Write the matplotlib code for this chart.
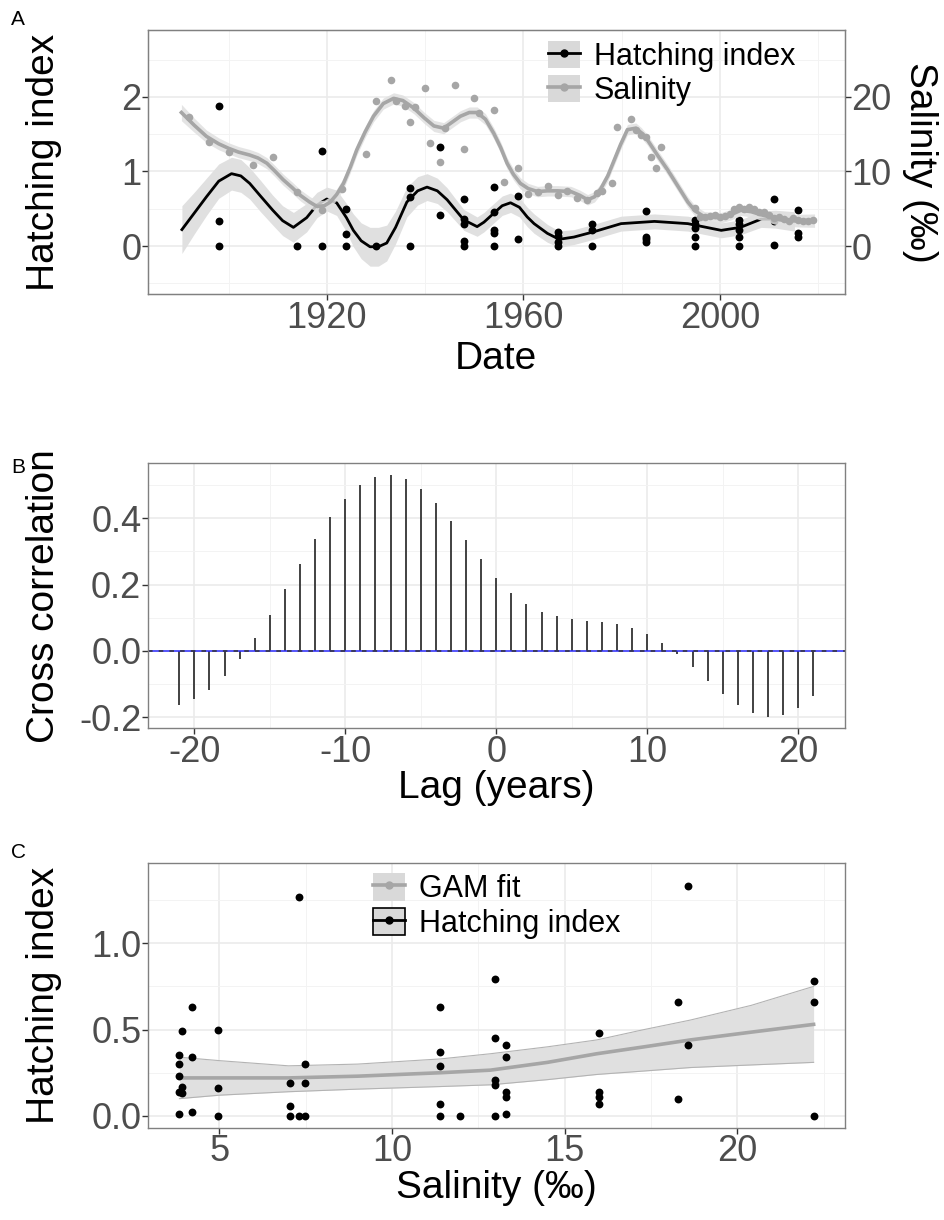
import matplotlib
matplotlib.use('Agg')
import matplotlib.pyplot as plt
import matplotlib.ticker as ticker
from matplotlib.patches import Patch
from matplotlib.lines import Line2D
import numpy as np

# ---------------- Panel A: hatching index & salinity over time ----------------
hatch_year = [1898, 1898, 1898, 1914, 1919, 1919, 1924, 1924, 1924, 1930,
              1937, 1937, 1937, 1943, 1943, 1948, 1948, 1948, 1948, 1948,
              1954, 1954, 1954, 1954, 1954, 1959, 1959, 1967, 1967, 1967, 1967,
              1974, 1974, 1974, 1985, 1985, 1985, 1985,
              1995, 1995, 1995, 1995, 1995, 2004, 2004, 2004, 2004, 2004,
              2011, 2011, 2011, 2016, 2016, 2016]
hatch_val = [1.88, 0.33, 0.0, 0.0, 1.27, 0.0, 0.49, 0.16, 0.0, 0.0,
             0.78, 0.66, 0.0, 1.33, 0.41, 0.63, 0.36, 0.30, 0.07, 0.0,
             0.79, 0.45, 0.21, 0.18, 0.0, 0.67, 0.09, 0.19, 0.13, 0.06, 0.0,
             0.30, 0.21, 0.0, 0.47, 0.12, 0.09, 0.05,
             0.35, 0.30, 0.24, 0.12, 0.0, 0.35, 0.30, 0.21, 0.12, 0.0,
             0.63, 0.34, 0.01, 0.48, 0.17, 0.12]

hatch_fit_year = [1890.5, 1893, 1895.5, 1898, 1900.6, 1902.5, 1904.3, 1906.5, 1909, 1911,
                  1913.2, 1915.9, 1918, 1920, 1922, 1924, 1925.4, 1927, 1928.8, 1930.5,
                  1932.2, 1934, 1936.3, 1938.5, 1940.4, 1942.5, 1944.5, 1946, 1947.9, 1950.6,
                  1952, 1954, 1955.7, 1957.4, 1959.2, 1960.8, 1962.2, 1964.9, 1967.3, 1970.3,
                  1974.3, 1979.9, 1986.7, 1993.5, 2000.3, 2004.2, 2008.4, 2011.3, 2015.2]
hatch_fit = [0.22, 0.44, 0.66, 0.87, 0.97, 0.94, 0.84, 0.67, 0.48, 0.34,
             0.25, 0.38, 0.55, 0.63, 0.58, 0.38, 0.21, 0.07, -0.01, -0.01,
             0.04, 0.25, 0.59, 0.74, 0.79, 0.74, 0.62, 0.50, 0.35, 0.26,
             0.32, 0.44, 0.54, 0.58, 0.52, 0.39, 0.30, 0.17, 0.09, 0.12,
             0.19, 0.30, 0.33, 0.30, 0.21, 0.25, 0.36, 0.36, 0.33]
hatch_se = [0.32, 0.28, 0.25, 0.23, 0.22, 0.22, 0.21, 0.21, 0.20, 0.20,
            0.20, 0.19, 0.17, 0.16, 0.17, 0.19, 0.22, 0.24, 0.26, 0.26,
            0.24, 0.22, 0.20, 0.19, 0.18, 0.17, 0.16, 0.15, 0.14, 0.13,
            0.13, 0.13, 0.13, 0.13, 0.13, 0.13, 0.13, 0.12, 0.11, 0.10,
            0.10, 0.10, 0.10, 0.10, 0.10, 0.10, 0.11, 0.12, 0.13]

sal_year = [1892, 1896, 1900, 1905, 1909, 1914, 1919, 1923, 1928, 1930,
            1933, 1934, 1936, 1937, 1938, 1940, 1941, 1943, 1944, 1946,
            1948, 1950, 1951, 1954, 1956, 1959, 1961, 1963, 1965, 1967,
            1969, 1971, 1973, 1975, 1976, 1978, 1979, 1982, 1983, 1984,
            1985, 1986, 1987, 1988, 1995, 1996, 1997, 1998, 1999, 2000,
            2001, 2002, 2003, 2004, 2005, 2006, 2007, 2008, 2009, 2010,
            2011, 2012, 2013, 2014, 2015, 2016, 2017, 2018, 2019]
sal_val = [17.3, 14.0, 12.6, 10.9, 12.0, 7.2, 4.8, 7.7, 12.3, 19.4,
           22.3, 19.4, 18.8, 16.6, 18.6, 21.2, 13.8, 11.3, 15.8, 21.6,
           13.0, 19.8, 17.9, 18.3, 8.6, 10.4, 7.0, 7.2, 8.1, 6.8,
           7.4, 6.5, 6.2, 7.1, 7.4, 8.5, 16.0, 17.0, 15.6, 14.9,
           14.6, 11.9, 10.5, 13.3, 5.1, 3.9, 3.9, 4.0, 4.2, 3.9,
           4.0, 4.3, 5.0, 5.2, 5.0, 5.2, 4.9, 4.6, 4.5, 4.2,
           3.8, 3.9, 3.6, 3.4, 3.7, 3.5, 3.3, 3.4, 3.5]

sal_fit_year = [1890.4, 1893, 1895.5, 1898, 1900, 1902, 1904.3, 1906, 1907.8, 1909.5,
                1911.1, 1913, 1914.6, 1916.5, 1918, 1919.5, 1920.7, 1922, 1923.4, 1924.8,
                1926.1, 1927.8, 1929.5, 1931.5, 1933.6, 1935.5, 1937.7, 1939.8, 1941.8, 1943.8,
                1945.5, 1947.2, 1949, 1950.6, 1952.3, 1954, 1955.4, 1956.7, 1958, 1959.4,
                1961, 1962.9, 1964.9, 1967, 1969.7, 1971.5, 1973.1, 1974.5, 1975.8, 1977.2,
                1978.5, 1979.8, 1981.2, 1982.9, 1984, 1985.3, 1987.3, 1989.4, 1991.5, 1993.5,
                1995, 1996.9, 2000.3, 2002.3, 2004.3, 2006.4, 2008.4, 2012.5, 2016, 2019.3]
sal_fit = [17.9, 16.2, 14.7, 13.7, 13.1, 12.6, 12.2, 11.8, 11.1, 10.0,
           8.9, 7.8, 6.8, 5.9, 5.3, 5.4, 5.9, 6.9, 8.4, 10.6,
           12.9, 15.3, 17.4, 19.1, 19.8, 19.5, 18.5, 17.2, 16.1, 15.8,
           16.6, 17.4, 17.9, 17.9, 17.0, 15.1, 13.2, 11.1, 9.6, 8.4,
           7.7, 7.3, 7.4, 7.4, 7.3, 6.8, 6.2, 6.6, 7.7, 9.4,
           11.5, 13.6, 15.6, 15.8, 15.2, 14.2, 12.2, 10.2, 8.0, 5.9,
           4.7, 3.9, 3.8, 4.2, 4.8, 4.6, 4.2, 3.5, 3.4, 3.4]
sal_se = [1.1, 0.95, 0.85, 0.8, 0.75, 0.75, 0.75, 0.75, 0.75, 0.75,
          0.75, 0.75, 0.75, 0.75, 0.75, 0.75, 0.75, 0.75, 0.75, 0.75,
          0.75, 0.75, 0.75, 0.75, 0.75, 0.75, 0.75, 0.75, 0.75, 0.75,
          0.75, 0.75, 0.75, 0.75, 0.75, 0.75, 0.75, 0.75, 0.75, 0.75,
          0.7, 0.7, 0.7, 0.7, 0.7, 0.7, 0.7, 0.7, 0.7, 0.7,
          0.7, 0.7, 0.7, 0.7, 0.7, 0.7, 0.7, 0.7, 0.7, 0.7,
          0.7, 0.7, 0.7, 0.7, 0.7, 0.7, 0.75, 0.8, 0.85, 0.9]

# ---------------- Panel B: cross correlation ----------------
lags = list(range(-21, 22))
ccf = [-0.163, -0.146, -0.118, -0.075, -0.024, 0.038, 0.109, 0.186, 0.262, 0.337,
       0.405, 0.459, 0.500, 0.524, 0.530, 0.518, 0.488, 0.445, 0.392, 0.335,
       0.276, 0.219, 0.174, 0.142, 0.118, 0.106, 0.096, 0.091, 0.087, 0.081,
       0.068, 0.050, 0.025, -0.009, -0.049, -0.090, -0.130, -0.163, -0.188, -0.198,
       -0.193, -0.173, -0.136]

# ---------------- Panel C: hatching index vs salinity ----------------
c_sal = [3.84, 3.84, 3.84, 3.84, 3.84, 3.92, 3.92, 3.92, 4.19, 4.19, 4.19,
         4.96, 4.96, 4.96, 7.04, 7.04, 7.04, 7.30, 7.30, 7.47, 7.47, 7.47,
         11.40, 11.40, 11.40, 11.40, 11.40, 11.96,
         12.97, 12.97, 12.97, 12.97, 12.97, 13.30, 13.30, 13.30, 13.30, 13.30,
         15.98, 15.98, 15.98, 15.98, 18.28, 18.28, 18.57, 18.57, 22.23, 22.23, 22.23]
c_hatch = [0.35, 0.30, 0.23, 0.14, 0.01, 0.49, 0.17, 0.13, 0.63, 0.34, 0.02,
           0.50, 0.16, 0.0, 0.19, 0.06, 0.0, 1.27, 0.0, 0.30, 0.19, 0.0,
           0.63, 0.37, 0.29, 0.07, 0.0, 0.0,
           0.79, 0.45, 0.21, 0.18, 0.0, 0.41, 0.34, 0.14, 0.11, 0.01,
           0.48, 0.14, 0.11, 0.07, 0.66, 0.10, 1.33, 0.41, 0.78, 0.66, 0.0]

gam_x = [3.84, 5, 7, 9, 11.4, 12.85, 14.5, 15.93, 17.3, 18.64, 20.4, 22.21]
gam_fit = [0.22, 0.22, 0.22, 0.23, 0.25, 0.265, 0.31, 0.36, 0.40, 0.44, 0.485, 0.53]
gam_lo = [0.10, 0.12, 0.14, 0.155, 0.17, 0.18, 0.21, 0.24, 0.26, 0.28, 0.295, 0.31]
gam_hi = [0.34, 0.32, 0.29, 0.30, 0.33, 0.36, 0.40, 0.44, 0.50, 0.555, 0.64, 0.75]

GREY = '#a6a6a6'
RIBBON = '#e0e0e0'
KEY_BG = '#d9d9d9'

plt.rcParams.update({
    'font.family': ['Liberation Sans', 'DejaVu Sans'],
    'axes.labelsize': 28,
    'axes.labelcolor': 'black',
    'axes.unicode_minus': False,
})


def style_axes(ax):
    """ggplot theme_bw look: grey frame, light major/minor grid, grey tick labels."""
    for s in ax.spines.values():
        s.set_color('#808080')
        s.set_linewidth(1.0)
    ax.grid(which='major', color='#ebebeb', lw=1.2)
    ax.grid(which='minor', color='#f3f3f3', lw=0.7)
    ax.set_axisbelow(True)
    ax.tick_params(which='major', length=4, width=1, color='#333333',
                   labelsize=26, labelcolor='#4d4d4d', pad=0.5)
    ax.tick_params(which='minor', length=0)


def legend_keys(specs):
    handles = []
    for line_color, lw, edge in specs:
        box = Patch(facecolor=KEY_BG, edgecolor=edge, linewidth=1.2 if edge != 'none' else 0)
        line = Line2D([], [], color=line_color, lw=lw, marker='o', markersize=5)
        handles.append((box, line))
    return handles


fig = plt.figure(figsize=(9.45, 12.2), dpi=100)

# --- Panel A ---
axA = fig.add_axes([0.1561, 0.7588, 0.7381, 0.2170])
style_axes(axA)
hf = np.array(hatch_fit)
hs = np.array(hatch_se)
axA.fill_between(hatch_fit_year, hf - hs, hf + hs, color=RIBBON, lw=0, zorder=1)
axA.plot(hatch_fit_year, hatch_fit, color='black', lw=2.0, zorder=2)
axA.scatter(hatch_year, hatch_val, s=32, color='black', zorder=3, linewidths=0)
axA.set_xlim(1883.5, 2025.5)
axA.set_ylim(-0.647, 2.903)
axA.xaxis.set_major_locator(ticker.MultipleLocator(40))
axA.xaxis.set_minor_locator(ticker.FixedLocator([1900, 1940, 1980, 2020]))
axA.yaxis.set_major_locator(ticker.FixedLocator([0, 1, 2]))
axA.yaxis.set_minor_locator(ticker.FixedLocator([-0.5, 0.5, 1.5, 2.5]))
axA.set_xlabel('Date', va='center')
axA.set_ylabel('Hatching index', va='bottom')
axA.yaxis.set_label_coords(-0.1226, 0.5)
axA.xaxis.set_label_coords(0.5, -0.245)

axS = axA.twinx()
sf = np.array(sal_fit)
ss = np.array(sal_se)
axS.fill_between(sal_fit_year, sf - ss, sf + ss, color=RIBBON, alpha=0.85, lw=0)
axS.plot(sal_fit_year, sal_fit, color=GREY, lw=2.6)
axS.scatter(sal_year, sal_val, s=30, color=GREY, linewidths=0)
axS.set_ylim(-6.47, 29.03)
axS.yaxis.set_major_locator(ticker.FixedLocator([0, 10, 20]))
for s in axS.spines.values():
    s.set_color('#808080')
axS.tick_params(length=4, width=1, color='#333333', labelsize=26, labelcolor='#4d4d4d', pad=0.5)
axS.set_ylabel('Salinity (\u2030)', rotation=270, va='bottom')
axS.yaxis.set_label_coords(1.0817, 0.5)
axS.legend(legend_keys([('black', 2.0, 'none'), (GREY, 2.6, 'none')]),
           ['Hatching index', 'Salinity'], loc='upper left', bbox_to_anchor=(0.574, 0.958),
           frameon=False, fontsize=22, handlelength=1.05, handleheight=1.0,
           handletextpad=0.45, labelspacing=0.1, borderpad=0, borderaxespad=0)

# --- Panel B ---
axB = fig.add_axes([0.1561, 0.4029, 0.7381, 0.2176])
style_axes(axB)
axB.vlines(lags, 0, ccf, color='#333333', lw=1.3)
axB.axhline(0, color='#2b2bff', lw=1.1)
axB.axhline(0, color='#333333', lw=1.1, ls=(0, (3, 4)))
axB.set_xlim(-23.1, 23.1)
axB.set_ylim(-0.2337, 0.5668)
axB.xaxis.set_major_locator(ticker.MultipleLocator(10))
axB.xaxis.set_minor_locator(ticker.FixedLocator([-15, -5, 5, 15]))
axB.yaxis.set_major_locator(ticker.FixedLocator([-0.2, 0.0, 0.2, 0.4]))
axB.yaxis.set_minor_locator(ticker.FixedLocator([-0.1, 0.1, 0.3, 0.5]))
axB.yaxis.set_major_formatter(ticker.FormatStrFormatter('%.1f'))
axB.set_xlabel('Lag (years)', va='center')
axB.set_ylabel('Cross correlation', va='bottom')
axB.yaxis.set_label_coords(-0.1226, 0.5)
axB.xaxis.set_label_coords(0.5, -0.225)

# --- Panel C ---
axC = fig.add_axes([0.1561, 0.0757, 0.7381, 0.2167])
style_axes(axC)
axC.fill_between(gam_x, gam_lo, gam_hi, color=RIBBON, lw=0, zorder=1)
axC.plot(gam_x, gam_lo, color='#b3b3b3', lw=0.8, zorder=1)
axC.plot(gam_x, gam_hi, color='#b3b3b3', lw=0.8, zorder=1)
axC.plot(gam_x, gam_fit, color=GREY, lw=2.6, zorder=2)
axC.scatter(c_sal, c_hatch, s=32, color='black', zorder=3, linewidths=0)
axC.set_xlim(2.915, 23.12)
axC.set_ylim(-0.068, 1.463)
axC.xaxis.set_major_locator(ticker.FixedLocator([5, 10, 15, 20]))
axC.xaxis.set_minor_locator(ticker.FixedLocator([7.5, 12.5, 17.5, 22.5]))
axC.yaxis.set_major_locator(ticker.FixedLocator([0.0, 0.5, 1.0]))
axC.yaxis.set_minor_locator(ticker.FixedLocator([0.25, 0.75, 1.25]))
axC.yaxis.set_major_formatter(ticker.FormatStrFormatter('%.1f'))
axC.set_xlabel('Salinity (\u2030)', va='center')
axC.set_ylabel('Hatching index', va='bottom')
axC.yaxis.set_label_coords(-0.1226, 0.5)
axC.xaxis.set_label_coords(0.5, -0.23)
axC.legend(legend_keys([(GREY, 2.6, 'none'), ('black', 2.0, 'black')]),
           ['GAM fit', 'Hatching index'], loc='upper left', bbox_to_anchor=(0.323, 0.962),
           frameon=False, fontsize=22, handlelength=1.05, handleheight=1.0,
           handletextpad=0.45, labelspacing=0.1, borderpad=0, borderaxespad=0)

# panel tags
for tag, y in [('A', 0.984), ('B', 0.617), ('C', 0.301)]:
    fig.text(0.012, y, tag, fontsize=15, ha='left', va='center')

fig.savefig('out.png', dpi=100)
